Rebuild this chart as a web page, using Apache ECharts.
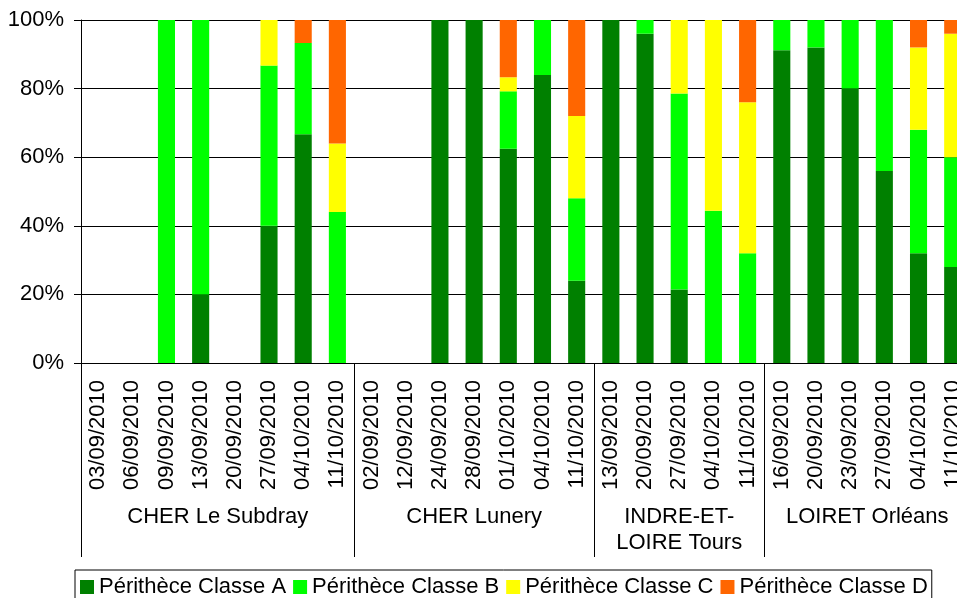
<!DOCTYPE html>
<html>
<head>
<meta charset="utf-8">
<title>Périthèces</title>
<script src="https://cdn.jsdelivr.net/npm/echarts@6/dist/echarts.min.js"></script>
<style>
  html, body { margin: 0; padding: 0; background: #fff; }
  #chart { width: 957px; height: 598px; }
</style>
</head>
<body>
<div id="chart"></div>
<script>
// dates de prélèvement, dans l'ordre des sites
const dates = [
  "03/09/2010", "06/09/2010", "09/09/2010", "13/09/2010", "20/09/2010", "27/09/2010", "04/10/2010", "11/10/2010",
  "02/09/2010", "12/09/2010", "24/09/2010", "28/09/2010", "01/10/2010", "04/10/2010", "11/10/2010",
  "13/09/2010", "20/09/2010", "27/09/2010", "04/10/2010", "11/10/2010",
  "16/09/2010", "20/09/2010", "23/09/2010", "27/09/2010", "04/10/2010", "11/10/2010"
];
const groupNames = ["CHER Le Subdray", "CHER Lunery", "INDRE-ET-\nLOIRE Tours", "LOIRET Orléans"];
const groupSizes = [8, 7, 5, 6];

// % de périthèces par classe
const classeA = [0, 0, 0, 20, 0, 40, 66.7, 0,   0, 0, 100, 100, 62.5, 84, 24,   100, 96, 21.4, 0, 0,   91.2, 92, 80, 56, 32, 28];
const classeB = [0, 0, 100, 80, 0, 46.7, 26.6, 44,   0, 0, 0, 0, 16.7, 16, 24,   0, 4, 57.2, 44.4, 32,   8.8, 8, 20, 44, 36, 32];
const classeC = [0, 0, 0, 0, 0, 13.3, 0, 20,   0, 0, 0, 0, 4.1, 0, 24,   0, 0, 21.4, 55.6, 44,   0, 0, 0, 0, 24, 36];
const classeD = [0, 0, 0, 0, 0, 0, 6.7, 36,   0, 0, 0, 0, 16.7, 0, 28,   0, 0, 0, 0, 24,   0, 0, 0, 0, 8, 4];

const yMax = 100;
const yStep = 20;

const FONT = "'Liberation Sans', Arial, sans-serif";

// limites et milieux des groupes (en unités de catégorie)
const bounds = [0];
const centers = [];
groupSizes.forEach(function (n) {
  const start = bounds[bounds.length - 1];
  centers.push(start + n / 2);
  bounds.push(start + n);
});

const chart = echarts.init(document.getElementById("chart"));

const option = {
  animation: false,
  textStyle: { fontFamily: FONT, color: "#000" },
  legend: {
    left: 75,
    top: 570,
    padding: [6, 4, 6, 5],
    borderColor: "#000",
    borderWidth: 1,
    itemWidth: 14,
    itemHeight: 14,
    itemGap: 7,
    icon: "rect",
    textStyle: { fontSize: 22, color: "#000", fontFamily: FONT },
    data: ["Périthèce Classe A", "Périthèce Classe B", "Périthèce Classe C", "Périthèce Classe D"]
  },
  grid: {
    left: 81,
    top: 20,
    width: 888.8,
    height: 343,
    containLabel: false,
    outerBoundsMode: "none"
  },
  xAxis: [
    {
      type: "category",
      data: dates,
      boundaryGap: true,
      axisLine: { lineStyle: { color: "#000", width: 1 } },
      axisTick: { interval: 0, length: 125, lineStyle: { color: "#000" } },
      axisLabel: {
        interval: 0,
        rotate: 90,
        margin: 17,
        fontSize: 22,
        color: "#000",
        fontFamily: FONT
      }
    },
    {
      // deuxième niveau : les sites
      type: "value",
      position: "bottom",
      min: 0,
      max: bounds[bounds.length - 1],
      axisLine: { show: false },
      splitLine: { show: false },
      axisTick: {
        show: true,
        customValues: bounds,
        length: 194,
        lineStyle: { color: "#000" }
      },
      axisLabel: {
        customValues: centers,
        margin: 141,
        fontSize: 22,
        lineHeight: 26,
        color: "#000",
        fontFamily: FONT,
        formatter: function (v) {
          const i = centers.indexOf(v);
          return i >= 0 ? groupNames[i] : "";
        }
      }
    }
  ],
  yAxis: {
    type: "value",
    min: 0,
    max: yMax,
    interval: yStep,
    axisLine: { show: true, lineStyle: { color: "#000" } },
    axisTick: { show: true, length: 7, lineStyle: { color: "#000" } },
    axisLabel: {
      formatter: "{value}%",
      fontSize: 22,
      margin: 17,
      color: "#000",
      fontFamily: FONT
    },
    splitLine: { lineStyle: { color: "#000", width: 1 } }
  },
  series: [
    { name: "Périthèce Classe A", type: "bar", stack: "total", barWidth: "50%", data: classeA, itemStyle: { color: "#008000" } },
    { name: "Périthèce Classe B", type: "bar", stack: "total", barWidth: "50%", data: classeB, itemStyle: { color: "#00FF00" } },
    { name: "Périthèce Classe C", type: "bar", stack: "total", barWidth: "50%", data: classeC, itemStyle: { color: "#FFFF00" } },
    { name: "Périthèce Classe D", type: "bar", stack: "total", barWidth: "50%", data: classeD, itemStyle: { color: "#FF6600" } }
  ]
};

chart.setOption(option);
</script>
</body>
</html>
